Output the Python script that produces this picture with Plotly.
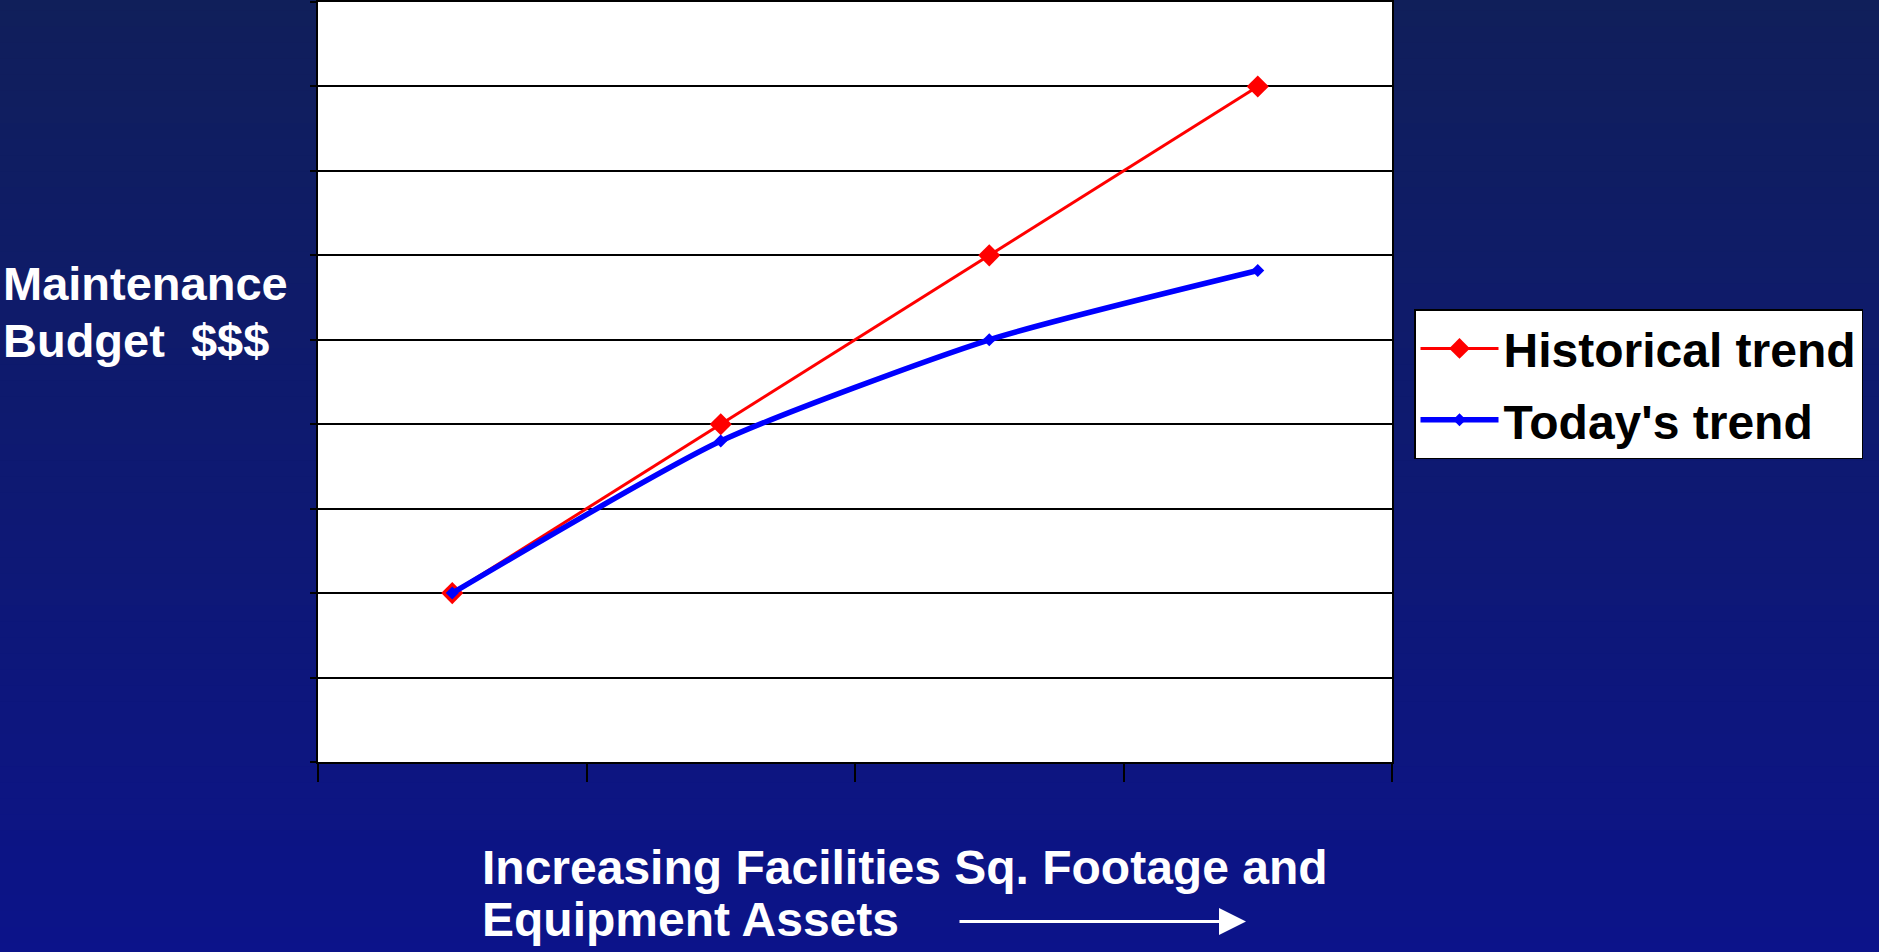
import plotly.graph_objects as go

# ---- data ----
periods = [1, 2, 3, 4]
historical_trend = [2.0, 4.0, 6.0, 8.0]
todays_trend = [2.0, 3.8, 5.0, 5.82]
series_names = ["Historical trend", "Today's trend"]
y_title_lines = ["Maintenance", "Budget  $$$"]
x_title_lines = ["Increasing Facilities Sq. Footage and", "Equipment Assets"]

W, H = 1879, 952
L, R, T, B = 318, 487, 0, 190
PW, PH = W - L - R, H - T - B

def px_x(p):
    return (p - L) / PW

def px_y(p):
    return 1 - (p - T) / PH

FONT = "Liberation Sans, Arial, sans-serif"

fig = go.Figure()
fig.add_trace(go.Scatter(
    x=periods, y=historical_trend, name=series_names[0], mode="lines+markers",
    legendgroup="h",
    line=dict(color="#ff0000", width=3),
    marker=dict(symbol="diamond", size=17, color="#ff0000"),
))
fig.add_trace(go.Scatter(
    x=periods, y=todays_trend, name=series_names[1], mode="lines+markers",
    legendgroup="t",
    line=dict(color="#0000ff", width=5.5, shape="spline", smoothing=0.6),
    marker=dict(symbol="diamond", size=10, color="#0000ff"),
))

# gradient background bands
shapes = []
n = 60
top_c = (16, 31, 90)
bot_c = (12, 19, 138)
y0p, y1p = px_y(H) - 0.01, px_y(0) + 0.01
for i in range(n):
    t = (i + 0.5) / n
    c = tuple(round(top_c[k] + (bot_c[k] - top_c[k]) * t) for k in range(3))
    ya = y1p - (y1p - y0p) * i / n
    yb = y1p - (y1p - y0p) * (i + 1) / n
    shapes.append(dict(type="rect", xref="paper", yref="paper",
                       x0=px_x(0) - 0.01, x1=px_x(W) + 0.01, y0=yb - 0.002, y1=ya,
                       fillcolor="rgb(%d,%d,%d)" % c, line=dict(width=0), layer="below"))
shapes.append(dict(type="rect", xref="paper", yref="paper", x0=0, x1=1, y0=0, y1=1,
                   fillcolor="white", line=dict(width=0), layer="below"))

annotations = []
annotations.append(dict(text="<b>%s</b>" % y_title_lines[0], xref="paper", yref="paper",
                        x=px_x(1), y=px_y(282), xanchor="left", yanchor="middle",
                        showarrow=False, font=dict(family=FONT, size=47, color="white")))
annotations.append(dict(text="<b>%s</b>" % y_title_lines[1], xref="paper", yref="paper",
                        x=px_x(1), y=px_y(339), xanchor="left", yanchor="middle",
                        showarrow=False, font=dict(family=FONT, size=47, color="white")))
annotations.append(dict(text="<b>%s</b>" % x_title_lines[0], xref="paper", yref="paper",
                        x=px_x(480), y=px_y(868), xanchor="left", yanchor="middle",
                        showarrow=False, font=dict(family=FONT, size=48, color="white")))
annotations.append(dict(text="<b>%s</b>" % x_title_lines[1], xref="paper", yref="paper",
                        x=px_x(480), y=px_y(920), xanchor="left", yanchor="middle",
                        showarrow=False, font=dict(family=FONT, size=48, color="white")))
annotations.append(dict(text="", xref="paper", yref="paper",
                        x=px_x(1246), y=px_y(922), ax=-288, ay=0,
                        showarrow=True, arrowhead=2, arrowsize=1.8, arrowwidth=3,
                        arrowcolor="white"))

fig.update_layout(
    width=W, height=H,
    margin=dict(l=L, r=R, t=T, b=B, pad=0),
    paper_bgcolor="rgb(14,25,114)",
    plot_bgcolor="white",
    shapes=shapes,
    annotations=annotations,
    showlegend=True,
    legend=dict(
        x=px_x(1414), y=px_y(308), xanchor="left", yanchor="top",
        bgcolor="white", bordercolor="black", borderwidth=1.5,
        font=dict(family=FONT, size=48, color="black", weight="bold"),
        itemwidth=78, tracegroupgap=6,
    ),
    xaxis=dict(
        range=[0.5, 4.5], tickvals=[0.5, 1.5, 2.5, 3.5, 4.5], showticklabels=False,
        ticks="outside", ticklen=18, tickwidth=2, tickcolor="black",
        showgrid=False, zeroline=False, showline=True, linecolor="black",
        linewidth=2, mirror=True,
    ),
    yaxis=dict(
        range=[0, 9], dtick=1, tick0=0, showticklabels=False,
        ticks="outside", ticklen=6, tickwidth=2, tickcolor="black",
        showgrid=True, gridcolor="black", gridwidth=1.5, zeroline=False,
        showline=True, linecolor="black", linewidth=2, mirror=True,
    ),
)

fig.write_html("out.html")
